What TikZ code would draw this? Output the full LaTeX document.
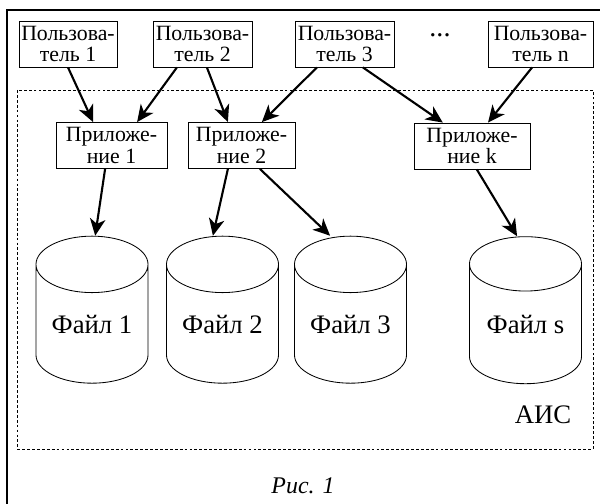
\documentclass[tikz,border=0pt]{standalone}
\usepackage{fontspec}
\setmainfont{Liberation Serif}
\usepackage{tikz}
\usetikzlibrary{shapes.geometric,arrows.meta}

\tikzset{
  userbox/.style={draw, line width=0.6pt, rectangle, minimum height=1.15cm, inner sep=0pt, align=center, font=\fontsize{15.5}{15.6}\selectfont},
  filecyl/.style={draw, line width=0.6pt, cylinder, shape border rotate=90, aspect=0.7, minimum width=2.8cm, minimum height=3.675cm, inner sep=0pt, font=\fontsize{19}{22}\selectfont},
  link/.style={line width=1.5pt, -{Stealth[length=12pt, width=11pt, inset=3.5pt]}}
}

\begin{document}
\begin{tikzpicture}[x=0.025cm, y=-0.025cm]
        \useasboundingbox (0,0) rectangle (600,504);

        % Frames
        \draw[line width=1.3pt] (7,10) rectangle (620,520);
        \draw[line width=0.6pt, dash pattern=on 2pt off 1.5pt] (17,90) rectangle (593,449);

        % Users
        \node[userbox, minimum width=2.45cm] (u1) at (68,44) {Пользова-\\тель 1};
        \node[userbox, minimum width=2.475cm] (u2) at (202.5,44) {Пользова-\\тель 2};
        \node[userbox, minimum width=2.475cm] (u3) at (344.5,44) {Пользова-\\тель 3};
        \node[font=\fontsize{20}{22}\selectfont] (dots) at (440,35) {...};
        \node[userbox, minimum width=2.625cm] (un) at (540.5,44) {Пользова-\\тель n};

        % Applications
        \node[userbox, minimum width=2.775cm] (a1) at (111.5,145.5) {Приложе-\\ние 1};
        \node[userbox, minimum width=2.675cm] (a2) at (241.5,145.5) {Приложе-\\ние 2};
        \node[userbox, minimum width=2.9cm] (ak) at (472,146) {Приложе-\\ние k};

        % Files
        \node[filecyl] (f1) at (92,324) {Файл 1};
        \node[filecyl] (f2) at (222.5,324) {Файл 2};
        \node[filecyl] (f3) at (350.5,324) {Файл 3};
        \node[filecyl] (fs) at (525.5,324) {Файл s};

        % Labels
        \node[font=\fontsize{19}{22}\selectfont] (ais) at (543,415) {АИС};
        \node[font=\fontsize{17}{20}\selectfont\itshape] (fig) at (303,486) {Рис. 1};

        % Arrows
        \draw[link] (u1.south) -- ([xshift=-0.46cm]a1.north);
        \draw[link] ([xshift=-0.64cm]u2.south) -- ([xshift=0.64cm]a1.north);
        \draw[link] ([xshift=0.11cm]u2.south) -- ([xshift=-0.34cm]a2.north);
        \draw[link] ([xshift=-0.69cm]u3.south) -- ([xshift=0.51cm]a2.north);
        \draw[link] ([xshift=0.46cm]u3.south) -- ([xshift=-0.73cm]ak.north);
        \draw[link] ([xshift=-0.21cm]un.south) -- ([xshift=0.4cm]ak.north);
        \draw[link] ([xshift=-0.16cm]a1.south) -- ([xshift=0.08cm]f1.north);
        \draw[link] ([xshift=-0.34cm]a2.south) -- ([xshift=-0.24cm]f2.north);
        \draw[link] ([xshift=0.46cm]a2.south) -- ([xshift=-0.51cm]f3.north);
        \draw[link] ([xshift=0.12cm]ak.south) -- ([xshift=-0.21cm]fs.north);
\end{tikzpicture}
\end{document}
